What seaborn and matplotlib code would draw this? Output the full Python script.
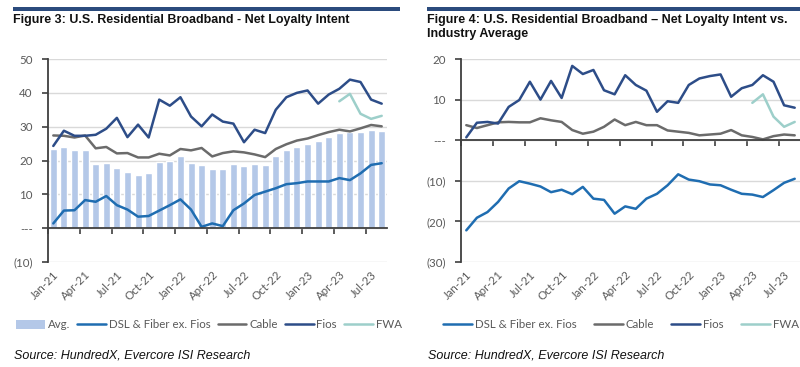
import numpy as np
import pandas as pd
import matplotlib
matplotlib.use("Agg")
import matplotlib.pyplot as plt
import seaborn as sns
from matplotlib.patches import Patch, Rectangle
from matplotlib.lines import Line2D

# ---------------- data ----------------
months = [f"{m}-{y}" for y in ("21", "22", "23")
          for m in ("Jan", "Feb", "Mar", "Apr", "May", "Jun",
                    "Jul", "Aug", "Sep", "Oct", "Nov", "Dec")][:32]
tick_labels = ["Jan-21", "Apr-21", "Jul-21", "Oct-21", "Jan-22", "Apr-22",
               "Jul-22", "Oct-22", "Jan-23", "Apr-23", "Jul-23"]

avg = [23.4, 24.0, 23.0, 23.0, 19.0, 19.4, 17.7, 16.6, 15.7, 16.2, 19.5, 19.9,
       21.3, 19.4, 18.7, 17.5, 17.5, 18.9, 18.5, 19.1, 18.7, 21.4, 23.0, 24.1,
       24.8, 25.8, 26.8, 28.2, 28.4, 28.4, 29.1, 28.8]
dsl = [1.4, 5.2, 5.3, 8.3, 7.8, 9.5, 6.8, 5.5, 3.4, 3.6, 5.2, 6.8,
       8.5, 5.5, 0.4, 1.4, 0.6, 5.3, 7.3, 9.8, 10.8, 11.8, 13.0, 13.3,
       13.8, 13.8, 13.8, 14.8, 14.2, 16.2, 18.7, 19.2]
cable = [27.4, 27.3, 26.8, 27.4, 23.6, 24.0, 22.1, 22.2, 20.9, 20.9, 22.0, 21.5,
         23.4, 23.0, 23.7, 21.2, 22.2, 22.7, 22.4, 21.8, 21.0, 23.4, 24.8, 25.9,
         26.5, 27.5, 28.4, 29.1, 28.6, 29.5, 30.5, 30.1]
fios = [24.3, 28.8, 27.3, 27.3, 27.6, 29.4, 32.6, 26.9, 30.6, 26.8, 38.0, 36.2,
        38.7, 33.0, 30.1, 33.6, 31.5, 30.9, 25.4, 29.1, 28.1, 35.0, 38.7, 40.0,
        40.7, 36.8, 39.5, 41.2, 43.9, 43.2, 38.0, 36.8]
fwa = [np.nan] * 27 + [37.5, 39.7, 33.8, 32.3, 33.2]

dsl_rel = [-22.2, -19.1, -17.7, -15.2, -11.9, -10.1, -10.7, -11.4, -12.8, -12.2, -13.3, -11.5,
           -14.4, -14.7, -18.1, -16.3, -16.9, -14.4, -13.2, -11.1, -8.4, -9.7, -10.1, -10.9,
           -11.1, -12.2, -13.2, -13.4, -14.0, -12.3, -10.5, -9.5]
cable_rel = [3.7, 3.0, 3.7, 4.4, 4.5, 4.4, 4.4, 5.4, 4.9, 4.5, 2.5, 1.6,
             2.1, 3.3, 5.1, 3.7, 4.5, 3.7, 3.7, 2.4, 2.1, 1.8, 1.2, 1.4,
             1.6, 2.5, 1.2, 0.8, 0.2, 1.0, 1.4, 1.2]
fios_rel = [0.7, 4.3, 4.5, 4.1, 8.2, 9.9, 14.4, 10.0, 14.6, 10.4, 18.3, 16.3,
            17.3, 12.3, 11.3, 16.0, 13.6, 12.2, 7.0, 9.6, 9.2, 13.6, 15.2, 15.8,
            16.2, 10.7, 12.8, 13.6, 16.0, 14.4, 8.6, 8.0]
fwa_rel = [np.nan] * 27 + [9.2, 11.3, 5.8, 3.3, 4.5]

left_yticks = [-10, 0, 10, 20, 30, 40, 50]
left_ylabels = ["(10)", "---", "10", "20", "30", "40", "50"]
right_yticks = [-30, -20, -10, 0, 10, 20]
right_ylabels = ["(30)", "(20)", "(10)", "---", "10", "20"]

# ---------------- style ----------------
C_AVG = "#B4C8E8"
C_DSL = "#1F6DB1"
C_CABLE = "#6B6B6B"
C_FIOS = "#2D4D88"
C_FWA = "#9DCFCA"
C_TXT = "#595959"
C_AX = "#3F3F3F"
C_GRID = "#D9D9D9"
NAVY = "#2B4B7D"
FS = 8.3

sns.set_theme(style="white")
plt.rcParams['font.family'] = ['Lato', 'DejaVu Sans']

fig = plt.figure(figsize=(8, 3.67), dpi=100)
W, H = 800, 367
ax1 = fig.add_axes([48 / W, 1 - 262 / H, 339 / W, 203 / H])
ax2 = fig.add_axes([461 / W, 1 - 262 / H, 339 / W, 203 / H])

x = np.arange(len(months))
lw = 1.8

sns.barplot(x=months, y=avg, ax=ax1, color=C_AVG, saturation=1, width=0.66, zorder=2)
for ser, col in ((dsl, C_DSL), (cable, C_CABLE), (fios, C_FIOS), (fwa, C_FWA)):
    sns.lineplot(x=x, y=ser, ax=ax1, color=col, lw=lw, zorder=3)
for ser, col in ((dsl_rel, C_DSL), (cable_rel, C_CABLE), (fios_rel, C_FIOS), (fwa_rel, C_FWA)):
    sns.lineplot(x=x, y=ser, ax=ax2, color=col, lw=lw, zorder=3)


def style_axes(ax, yticks, ylabels):
    ax.set_ylim(min(yticks), max(yticks))
    ax.set_xlim(-0.5, len(months) - 0.5)
    ax.set_yticks(yticks)
    ax.set_yticklabels(ylabels)
    ax.grid(axis='y', color=C_GRID, lw=1.0, zorder=0)
    ax.grid(axis='x', visible=False)
    for s in ("top", "right"):
        ax.spines[s].set_visible(False)
    ax.spines["left"].set_color(C_AX)
    ax.spines["left"].set_linewidth(1.3)
    ax.spines["bottom"].set_position(("data", 0))
    ax.spines["bottom"].set_color(C_AX)
    ax.spines["bottom"].set_linewidth(1.3)
    ax.spines["bottom"].set_zorder(4)
    ax.set_xticks(np.arange(-0.5, len(months), 3))
    ax.set_xticklabels([])
    ax.tick_params(axis='x', direction='out', length=4, width=1.2, color=C_AX, bottom=True)
    ax.tick_params(axis='y', direction='out', length=4, width=1.2, color=C_AX, left=True,
                   pad=7, labelsize=FS, labelcolor=C_TXT)
    ax.set_xlabel("")
    ax.set_ylabel("")
    sec = ax.secondary_xaxis('bottom')
    sec.set_xticks(np.arange(0, len(months), 3))
    sec.set_xticklabels(tick_labels, rotation=45, ha='right', rotation_mode='anchor')
    sec.tick_params(length=0, pad=5, labelsize=FS, labelcolor=C_TXT)
    sec.spines['bottom'].set_visible(False)


style_axes(ax1, left_yticks, left_ylabels)
style_axes(ax2, right_yticks, right_ylabels)

# ---------------- legends ----------------
def lh(c):
    return Line2D([], [], color=c, lw=lw)

h1 = [Patch(facecolor=C_AVG, edgecolor='none'), lh(C_DSL), lh(C_CABLE), lh(C_FIOS), lh(C_FWA)]
l1 = ["Avg.", "DSL & Fiber ex. Fios", "Cable", "Fios", "FWA"]
fig.legend(h1, l1, loc='center', bbox_to_anchor=(209 / W, 1 - 325 / H), ncol=5, frameon=False,
           handlelength=2.5, handletextpad=0.25, columnspacing=0.6, fontsize=FS,
           labelcolor=C_TXT)
h2 = [lh(C_DSL), lh(C_CABLE), lh(C_FIOS), lh(C_FWA)]
l2 = ["DSL & Fiber ex. Fios", "Cable", "Fios", "FWA"]
fig.legend(h2, l2, loc='center', bbox_to_anchor=(621 / W, 1 - 325 / H), ncol=4, frameon=False,
           handlelength=2.5, handletextpad=0.25, columnspacing=1.5, fontsize=FS,
           labelcolor=C_TXT)

# ---------------- titles / source ----------------
fig.add_artist(Rectangle((13 / W, 1 - 11 / H), (400 - 13) / W, 4 / H,
                         transform=fig.transFigure, color=NAVY, lw=0))
fig.add_artist(Rectangle((427 / W, 1 - 11 / H), (800 - 427) / W, 4 / H,
                         transform=fig.transFigure, color=NAVY, lw=0))
tkw = dict(fontsize=9.0, fontweight='bold', family=['Liberation Sans', 'DejaVu Sans'],
           color='#111111', va='center', ha='left')
fig.text(13 / W, 1 - 19.5 / H, "Figure 3: U.S. Residential Broadband - Net Loyalty Intent", **tkw)
fig.text(427 / W, 1 - 19.5 / H, "Figure 4: U.S. Residential Broadband \u2013 Net Loyalty Intent vs.", **tkw)
fig.text(427 / W, 1 - 33.5 / H, "Industry Average", **tkw)

skw = dict(fontsize=9.0, style='italic', family=['Liberation Sans', 'DejaVu Sans'],
           color='#111111', va='center', ha='left')
fig.text(14 / W, 1 - 356 / H, "Source: HundredX, Evercore ISI Research", **skw)
fig.text(428 / W, 1 - 356 / H, "Source: HundredX, Evercore ISI Research", **skw)

fig.savefig("out.png", dpi=100)
